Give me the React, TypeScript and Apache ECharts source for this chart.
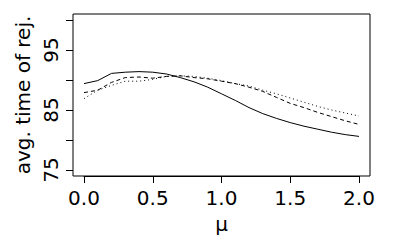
import React, { useEffect, useRef } from "react";
import * as echarts from "echarts";

const muValues = [0, 0.1, 0.2, 0.3, 0.4, 0.5, 0.6, 0.7, 0.8, 0.9, 1.0, 1.1, 1.2, 1.3, 1.4, 1.5, 1.6, 1.7, 1.8, 1.9, 2.0];
const solidSeries = [89.4, 89.9, 91.1, 91.3, 91.4, 91.3, 91.0, 90.4, 89.7, 88.8, 87.7, 86.6, 85.4, 84.4, 83.6, 82.9, 82.3, 81.8, 81.3, 80.9, 80.6];
const dashedSeries = [87.9, 88.3, 89.6, 90.4, 90.5, 90.3, 90.6, 90.7, 90.4, 90.2, 89.8, 89.4, 88.8, 88.1, 87.1, 86.1, 85.4, 84.6, 83.9, 83.2, 82.6];
const dottedSeries = [86.9, 88.3, 89.1, 89.8, 89.8, 90.1, 90.6, 90.7, 90.6, 90.3, 89.9, 89.4, 89.0, 88.3, 87.7, 87.0, 86.3, 85.6, 85.0, 84.5, 84.0];
const xTickStep = 0.5;
const yTickStep = 5;
const yLabels = [75, 85, 95];

const FONT = "DejaVu Sans";
const FS = 20;

export default function App() {
  const ref = useRef<HTMLDivElement>(null);
  useEffect(() => {
    if (!ref.current) return;
    const chart = echarts.init(ref.current, null, { renderer: "svg" });
    const pair = (ys: number[]) => muValues.map((x, i) => [x, ys[i]]);
    const mkLine = (ys: number[], type: any) => ({
      type: "line",
      xAxisIndex: 1,
      yAxisIndex: 1,
      data: pair(ys),
      showSymbol: false,
      symbol: "none",
      clip: false,
      lineStyle: { color: "#000", width: 1, type },
      silent: true,
    });
    const text = { fontFamily: FONT, fontSize: FS, color: "#000" };
    chart.setOption({
      animation: false,
      backgroundColor: "#fff",
      grid: [
        { left: 73, right: 30, top: 14, bottom: 74, show: true, borderColor: "#000", borderWidth: 1 },
        { left: 84, right: 41, top: 20, bottom: 80 },
      ],
      xAxis: [
        { type: "value", gridIndex: 0, min: 0, max: 1, show: false },
        {
          type: "value",
          gridIndex: 1,
          min: 0,
          max: 2,
          interval: xTickStep,
          position: "bottom",
          offset: 6,
          name: "μ",
          nameLocation: "middle",
          nameGap: 38,
          nameTextStyle: text,
          axisLine: { show: true, onZero: false, lineStyle: { color: "#000", width: 1 } },
          splitLine: { show: false },
          axisTick: { show: true, inside: false, length: 7, lineStyle: { color: "#000", width: 1 } },
          axisLabel: {
            ...text,
            margin: 12,
            showMinLabel: true,
            showMaxLabel: true,
            formatter: (v: number) => v.toFixed(1),
          },
        },
      ],
      yAxis: [
        { type: "value", gridIndex: 0, min: 0, max: 1, show: false },
        {
          type: "value",
          gridIndex: 1,
          min: 75,
          max: 100,
          interval: yTickStep,
          position: "left",
          offset: 11,
          name: "avg. time of rej.",
          nameLocation: "middle",
          nameGap: 39,
          nameTextStyle: text,
          axisLine: { show: false, onZero: false },
          splitLine: { show: false },
          axisTick: { show: true, inside: false, length: 7, lineStyle: { color: "#000", width: 1 } },
          axisLabel: {
            ...text,
            rotate: 90,
            margin: 12,
            showMinLabel: true,
            showMaxLabel: true,
            formatter: (v: number) => (yLabels.includes(v) ? String(v) : ""),
          },
        },
      ],
      series: [mkLine(solidSeries, "solid"), mkLine(dashedSeries, [4, 3]), mkLine(dottedSeries, [1, 3])],
    });
    return () => chart.dispose();
  }, []);
  return <div ref={ref} style={{ position: "absolute", left: 0, top: 0, width: 400, height: 250 }} />;
}
